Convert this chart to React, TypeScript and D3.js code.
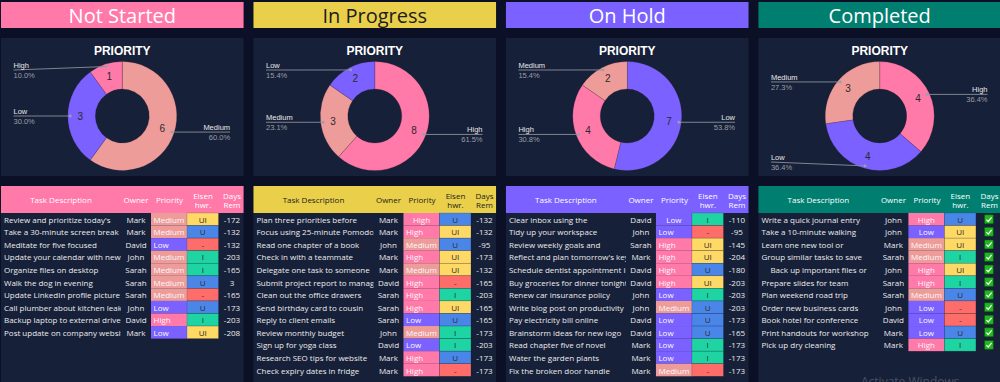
import React from "react";
import * as d3 from "d3";

// ---------------- DATA ----------------
const statusNames = ["Not Started", "In Progress", "On Hold", "Completed"];
const priorityLevels = ["High", "Low", "Medium"];

const notStartedTasks = [
  "Review and prioritize today's",
  "Take a 30-minute screen break",
  "Meditate for five focused",
  "Update your calendar with new",
  "Organize files on desktop",
  "Walk the dog in evening",
  "Update LinkedIn profile picture",
  "Call plumber about kitchen leak",
  "Backup laptop to external drive",
  "Post update on company website",
];
const notStartedOwners = ["Mark", "Mark", "David", "John", "Sarah", "Sarah", "Sarah", "John", "David", "Mark"];
const notStartedPriority = ["Medium", "Medium", "Low", "Medium", "Medium", "Medium", "Medium", "Low", "High", "Low"];
const notStartedEisen = ["UI", "U", "-", "I", "I", "U", "-", "U", "I", "UI"];
const notStartedDays = [-172, -132, -132, -203, -165, 3, -165, -173, -203, -208];

const inProgressTasks = [
  "Plan three priorities before",
  "Focus using 25-minute Pomodoro",
  "Read one chapter of a book",
  "Check in with a teammate",
  "Delegate one task to someone",
  "Submit project report to manager",
  "Clean out the office drawers",
  "Send birthday card to cousin",
  "Reply to client emails",
  "Review monthly budget",
  "Sign up for yoga class",
  "Research SEO tips for website",
  "Check expiry dates in fridge",
];
const inProgressOwners = ["Mark", "Mark", "John", "Mark", "Mark", "David", "Sarah", "Sarah", "Sarah", "John", "David", "Mark", "Mark"];
const inProgressPriority = ["High", "High", "Medium", "High", "Medium", "High", "High", "High", "Low", "Medium", "Low", "High", "High"];
const inProgressEisen = ["U", "UI", "U", "UI", "UI", "-", "I", "UI", "U", "I", "I", "U", "-"];
const inProgressDays = [-132, -132, -95, -173, -132, -165, -203, -165, -165, -173, -203, -173, -173];

const onHoldTasks = [
  "Clear inbox using the",
  "Tidy up your workspace",
  "Review weekly goals and",
  "Reflect and plan tomorrow's key",
  "Schedule dentist appointment in",
  "Buy groceries for dinner tonight",
  "Renew car insurance policy",
  "Write blog post on productivity",
  "Pay electricity bill online",
  "Brainstorm ideas for new logo",
  "Read chapter five of novel",
  "Water the garden plants",
  "Fix the broken door handle",
];
const onHoldOwners = ["David", "John", "Sarah", "Mark", "David", "David", "John", "John", "David", "David", "Mark", "Mark", "Mark"];
const onHoldPriority = ["Low", "Low", "High", "High", "High", "High", "Low", "Medium", "Low", "Low", "Low", "Low", "Medium"];
const onHoldEisen = ["I", "-", "UI", "UI", "U", "UI", "I", "U", "U", "U", "I", "I", "-"];
const onHoldDays = [-110, -95, -145, -204, -180, -203, -203, -203, -173, -165, -173, -173, -173];

const completedTasks = [
  "Write a quick journal entry",
  "Take a 10-minute walking",
  "Learn one new tool or",
  "Group similar tasks to save",
  "Back up important files or",
  "Prepare slides for team",
  "Plan weekend road trip",
  "Order new business cards",
  "Book hotel for conference",
  "Print handouts for workshop",
  "Pick up dry cleaning",
];
const completedOwners = ["John", "John", "Mark", "Sarah", "John", "Sarah", "Sarah", "John", "David", "Mark", "Mark"];
const completedPriority = ["High", "Low", "Medium", "Medium", "High", "High", "Medium", "Low", "Low", "Low", "High"];
const completedEisen = ["U", "UI", "UI", "I", "UI", "I", "U", "-", "-", "U", "I"];
const completedDone = [true, true, true, true, true, true, true, true, true, true, true];

const tableHeaders = ["Task Description", "Owner", "Priority", "Eisen\nhwr.", "Days\nRem"];

// ---------------- STYLE ----------------
const PAGE_BG = "#0b1027";
const PANEL_BG = "#172039";
const HEADER_COLORS = ["#ff79a9", "#e9cf4a", "#7b61ff", "#007f70"];
const HEADER_TEXT = ["#ffffff", "#1c1c1c", "#ffffff", "#ffffff"];
const PRIORITY_COLORS: Record<string, string> = { High: "#ff79a9", Medium: "#ee9c9a", Low: "#7b61ff" };
const EISEN_COLORS: Record<string, string> = { U: "#4a86e8", UI: "#ffd966", I: "#1ed4a3", "-": "#ff6d6a" };
const CENTERED_PRIORITY: Array<(i: number) => boolean> = [
  () => false,
  (i) => i === 0,
  (i) => i === 0,
  () => true,
];
const TASK_INDENT: Array<Record<number, number>> = [{}, {}, {}, { 4: 9 }];
const TABLE_FONT = "'Open Sans', 'Noto Sans', sans-serif";
const CHART_FONT = "'Liberation Sans', Arial, sans-serif";
const ROW_FONT_SIZE = 8;

type Panel = {
  tasks: string[];
  owners: string[];
  priority: string[];
  eisen: string[];
  days: (number | null)[];
  done: boolean[] | null;
};

const panels: Panel[] = [
  { tasks: notStartedTasks, owners: notStartedOwners, priority: notStartedPriority, eisen: notStartedEisen, days: notStartedDays, done: null },
  { tasks: inProgressTasks, owners: inProgressOwners, priority: inProgressPriority, eisen: inProgressEisen, days: inProgressDays, done: null },
  { tasks: onHoldTasks, owners: onHoldOwners, priority: onHoldPriority, eisen: onHoldEisen, days: onHoldDays, done: null },
  { tasks: completedTasks, owners: completedOwners, priority: completedPriority, eisen: completedEisen, days: [], done: completedDone },
];

const W = 1000;
const H = 382;

export default function App() {
  const xBand = d3.scaleBand<string>().domain(statusNames).range([1, 1001]).paddingInner(0.0392);
  const bw = xBand.bandwidth();
  const rowY = d3.scaleLinear().domain([0, 1]).range([213, 225.56]);

  const chartTop = 38;
  const chartBottom = 176;
  const cy = 116;
  const outerR = 54.5;
  const innerR = 27;
  const arc = d3.arc<d3.PieArcDatum<{ key: string; value: number }>>().innerRadius(innerR).outerRadius(outerR);
  const pie = d3
    .pie<{ key: string; value: number }>()
    .sort((a, b) => b.value - a.value || priorityLevels.indexOf(a.key) - priorityLevels.indexOf(b.key))
    .value((d) => d.value);

  return (
    <svg
      width={W}
      height={H}
      style={{ position: "absolute", left: 0, top: 0, background: PAGE_BG, display: "block" }}
    >
      <rect x={0} y={0} width={W} height={H} fill={PAGE_BG} />
      <defs>
        {statusNames.map((s, pi) => (
          <clipPath id={`taskclip${pi}`} key={s}>
            <rect x={(xBand(s) as number)} y={210} width={120} height={180} />
          </clipPath>
        ))}
      </defs>
      {statusNames.map((status, pi) => {
        const x0 = xBand(status) as number;
        const cx = x0 + bw / 2;
        const p = panels[pi];
        const counts = d3.rollup(p.priority, (v) => v.length, (d) => d);
        const pieData = Array.from(counts, ([key, value]) => ({ key, value }));
        const total = d3.sum(pieData, (d) => d.value);
        const arcs = pie(pieData);
        const fmt = d3.format(".1%");
        return (
          <g key={status}>
            {/* Header */}
            <rect x={x0} y={2} width={bw} height={26} fill={HEADER_COLORS[pi]} />
            <text
              x={cx}
              y={22.5}
              textAnchor="middle"
              fontFamily={TABLE_FONT}
              fontSize={20}
              fill={HEADER_TEXT[pi]}
            >
              {status}
            </text>

            {/* Chart panel */}
            <rect x={x0} y={chartTop} width={bw} height={chartBottom - chartTop} fill={PANEL_BG} />
            <text x={cx} y={55} textAnchor="middle" fontFamily={CHART_FONT} fontWeight="bold" fontSize={12} fill="#ffffff">
              PRIORITY
            </text>
            <g transform={`translate(${cx},${cy})`}>
              {arcs.map((a) => (
                <path
                  key={a.data.key}
                  d={arc(a) as string}
                  fill={PRIORITY_COLORS[a.data.key]}
                  stroke="rgba(60,30,50,0.35)"
                  strokeWidth={0.6}
                />
              ))}
              {arcs.map((a) => {
                const mid = (a.startAngle + a.endAngle) / 2;
                const lr = 42;
                return (
                  <text
                    key={a.data.key + "v"}
                    x={Math.sin(mid) * lr}
                    y={-Math.cos(mid) * lr}
                    textAnchor="middle"
                    dominantBaseline="central"
                    fontFamily={CHART_FONT}
                    fontSize={10}
                    fill="#2a2a2a"
                  >
                    {a.data.value}
                  </text>
                );
              })}
            </g>
            {arcs.map((a) => {
              const mid = (a.startAngle + a.endAngle) / 2;
              const dr = 52;
              const dx = cx + Math.sin(mid) * dr;
              const dy = cy - Math.cos(mid) * dr;
              const right = Math.sin(mid) > 0;
              const lineY = Math.max(chartTop + 32, Math.min(chartBottom - 14, dy));
              const lx = right ? x0 + bw - 13.5 : x0 + 12.5;
              return (
                <g key={a.data.key + "l"}>
                  <line x1={lx} y1={lineY} x2={dx} y2={dy} stroke="#8a8f99" strokeWidth={0.9} />
                  <circle cx={dx} cy={dy} r={1.4} fill="#9aa0aa" />
                  <text
                    x={lx}
                    y={lineY - 2.2}
                    textAnchor={right ? "end" : "start"}
                    fontFamily={CHART_FONT}
                    fontSize={7.5}
                    fill="#e8e8e8"
                  >
                    {a.data.key}
                  </text>
                  <text
                    x={lx}
                    y={lineY + 7.8}
                    textAnchor={right ? "end" : "start"}
                    fontFamily={CHART_FONT}
                    fontSize={7.5}
                    fill="#9a9ea6"
                  >
                    {fmt(a.data.value / total)}
                  </text>
                </g>
              );
            })}

            {/* Table */}
            <rect x={x0} y={213} width={bw} height={H - 213} fill={PANEL_BG} />
            <rect x={x0} y={186} width={bw} height={27} fill={HEADER_COLORS[pi]} />
            {tableHeaders.map((h, hi) => {
              const colX = [60, 135, 168.5, 202, 231][hi];
              const lines = h.split("\n");
              return (
                <text
                  key={h}
                  x={x0 + colX}
                  textAnchor="middle"
                  fontFamily={TABLE_FONT}
                  fontSize={8}
                  fill={HEADER_TEXT[pi]}
                >
                  {lines.map((ln, li) => (
                    <tspan
                      key={ln}
                      x={x0 + colX}
                      y={lines.length === 1 ? 199.5 : 195.5 + li * 9}
                      dominantBaseline="central"
                    >
                      {ln}
                    </tspan>
                  ))}
                </text>
              );
            })}
            {p.tasks.map((t, i) => {
              const top = rowY(i);
              const mid = top + 6.28;
              const centered = CENTERED_PRIORITY[pi](i);
              return (
                <g key={t}>
                  <text
                    x={x0 + 3 + (TASK_INDENT[pi][i] || 0)}
                    y={mid}
                    dominantBaseline="central"
                    fontFamily={TABLE_FONT}
                    fontSize={ROW_FONT_SIZE}
                    fill="#ececec"
                    clipPath={`url(#taskclip${pi})`}
                  >
                    {t}
                  </text>
                  <text
                    x={x0 + 135}
                    y={mid}
                    textAnchor="middle"
                    dominantBaseline="central"
                    fontFamily={TABLE_FONT}
                    fontSize={ROW_FONT_SIZE}
                    fill="#ececec"
                  >
                    {p.owners[i]}
                  </text>
                  <rect x={x0 + 150} y={top} width={36} height={12.56} fill={PRIORITY_COLORS[p.priority[i]]} />
                  <text
                    x={centered ? x0 + 168 : x0 + 152.5}
                    y={mid}
                    textAnchor={centered ? "middle" : "start"}
                    dominantBaseline="central"
                    fontFamily={TABLE_FONT}
                    fontSize={ROW_FONT_SIZE}
                    fill="#fafafa"
                  >
                    {p.priority[i]}
                  </text>
                  <rect
                    x={x0 + 186}
                    y={top}
                    width={31.5}
                    height={12.56}
                    fill={EISEN_COLORS[p.eisen[i]]}
                    stroke="rgba(20,25,45,0.35)"
                    strokeWidth={0.5}
                  />
                  <text
                    x={x0 + 201.75}
                    y={mid}
                    textAnchor="middle"
                    dominantBaseline="central"
                    fontFamily={TABLE_FONT}
                    fontSize={ROW_FONT_SIZE}
                    fill="#2a2a2a"
                  >
                    {p.eisen[i]}
                  </text>
                  {p.done ? (
                    <g>
                      <rect x={x0 + 226} y={mid - 4.5} width={9} height={9} fill="#1fb81f" stroke="#0d4d0d" strokeWidth={0.6} rx={0.8} />
                      <path
                        d={`M${x0 + 228} ${mid + 0.3} L${x0 + 229.8} ${mid + 2.2} L${x0 + 233.2} ${mid - 2}`}
                        fill="none"
                        stroke="#ffffff"
                        strokeWidth={1.2}
                      />
                    </g>
                  ) : (
                    <text
                      x={x0 + 231}
                      y={mid}
                      textAnchor="middle"
                      dominantBaseline="central"
                      fontFamily={TABLE_FONT}
                      fontSize={ROW_FONT_SIZE}
                      fill="#ececec"
                    >
                      {p.days[i]}
                    </text>
                  )}
                </g>
              );
            })}
          </g>
        );
      })}
      <text x={861} y={386} fontFamily={TABLE_FONT} fontSize={12} fill="#4a5163">
        Activate Windows
      </text>
    </svg>
  );
}
